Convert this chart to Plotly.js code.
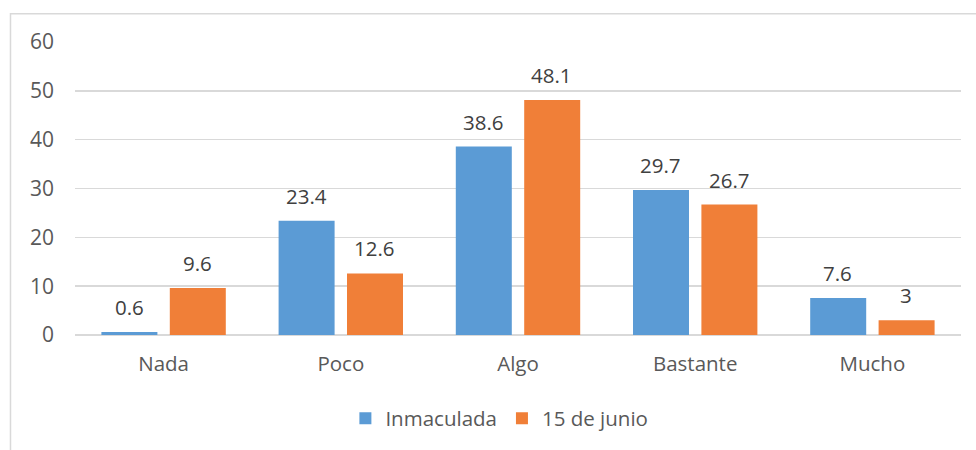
<!DOCTYPE html>
<html>
<head>
<meta charset="utf-8">
<script src="https://cdn.plot.ly/plotly-3.0.1.min.js"></script>
<style>html,body{margin:0;padding:0;background:#fff;}#chart{width:976px;height:450px;}</style>
</head>
<body>
<div id="chart"></div>
<script>
const categories = ["Nada", "Poco", "Algo", "Bastante", "Mucho"];
const inmaculada = [0.6, 23.4, 38.6, 29.7, 7.6];
const junio15 = [9.6, 12.6, 48.1, 26.7, 3];
const seriesNames = ["Inmaculada", "15 de junio"];
const yTicks = [0, 10, 20, 30, 40, 50, 60];

const font = "'Open Sans', 'Noto Sans', sans-serif";
const barW = 0.316;

const traces = [
  {type: "bar", name: seriesNames[0], x: categories, y: inmaculada,
   width: barW, offset: -0.351,
   marker: {color: "#5b9bd5", line: {width: 0}}, hoverinfo: "none"},
  {type: "bar", name: seriesNames[1], x: categories, y: junio15,
   width: barW, offset: 0.035,
   marker: {color: "#f07f38", line: {width: 0}}, hoverinfo: "none"}
];

const annotations = [];
categories.forEach((c, i) => {
  annotations.push({x: c, y: inmaculada[i], xref: "x", yref: "y", text: String(inmaculada[i]),
    showarrow: false, xshift: -34.5, yshift: 25, yanchor: "middle",
    font: {family: font, size: 20.5, color: "#404040"}});
  annotations.push({x: c, y: junio15[i], xref: "x", yref: "y", text: String(junio15[i]),
    showarrow: false, xshift: 33.8, yshift: 25, yanchor: "middle",
    font: {family: font, size: 20.5, color: "#404040"}});
});

const layout = {
  width: 976, height: 450,
  margin: {l: 75, r: 15, t: 42, b: 113},
  paper_bgcolor: "#ffffff", plot_bgcolor: "#ffffff",
  font: {family: font, size: 20.5, color: "#595959"},
  barmode: "group",
  showlegend: true,
  legend: {orientation: "h", x: 0.479, xanchor: "center", y: -0.285, yanchor: "middle",
    font: {family: font, size: 20.5, color: "#595959"}, itemwidth: 30, traceorder: "normal"},
  xaxis: {type: "category", showgrid: false, zeroline: false, showline: false,
    ticks: "", ticklabelstandoff: 14, tickfont: {family: font, size: 20.5, color: "#595959"}},
  yaxis: {range: [0, 60], tickvals: yTicks, ticktext: yTicks.map(String),
    showgrid: true, gridcolor: "#d9d9d9", gridwidth: 1.5,
    zeroline: true, zerolinecolor: "#d9d9d9", zerolinewidth: 1.5,
    showline: false, ticks: "", ticklabelstandoff: 20,
    tickfont: {family: font, size: 21, color: "#595959"}},
  annotations: annotations,
  shapes: [{type: "rect", xref: "paper", yref: "paper",
    x0: -0.0728, x1: 1.05, y0: -0.45, y1: 1.0966,
    line: {color: "#d9d9d9", width: 1.5}, fillcolor: "rgba(0,0,0,0)", layer: "below"}]
};

Plotly.newPlot("chart", traces, layout, {displayModeBar: false, staticPlot: true});
</script>
</body>
</html>
